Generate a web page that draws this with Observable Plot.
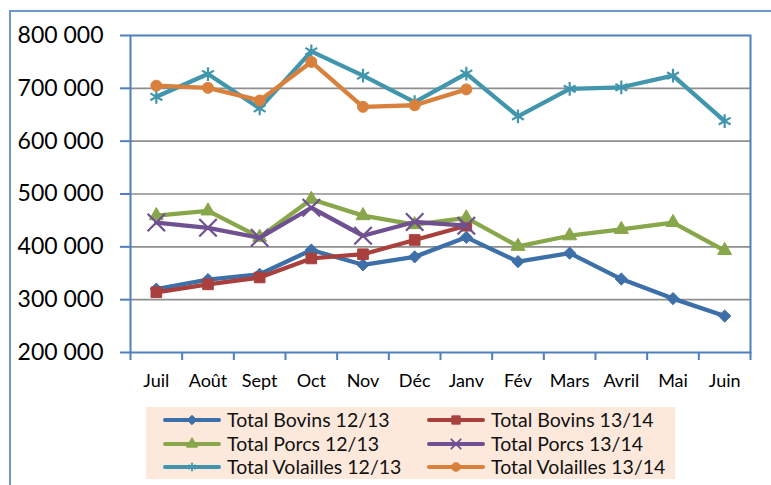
<!DOCTYPE html>
<html>
<head>
<meta charset="utf-8">
<script src="https://cdn.jsdelivr.net/npm/d3@7"></script>
<script src="https://cdn.jsdelivr.net/npm/@observablehq/plot@0.6"></script>
<style>
  html, body { margin: 0; padding: 0; background: #fff; overflow: hidden; }
  #wrap { position: relative; width: 771px; height: 485px; font-family: Lato, "Liberation Sans", sans-serif; }
  #frame { position: absolute; left: 9px; top: 10px; width: 900px; height: 600px; border: 2px solid #7096c8; box-sizing: border-box; }
  #chart { position: absolute; left: 0; top: 0; }
  #legend { position: absolute; left: 146px; top: 407px; width: 529px; height: 72px; background: #fce9dc; }
  .item { position: absolute; display: flex; align-items: center; height: 24px; font-size: 19.5px; line-height: 24px; color: #111; white-space: nowrap; }
  .item svg { margin-right: 6px; }
</style>
</head>
<body>
<div id="wrap">
  <div id="frame"></div>
  <div id="chart"></div>
  <div id="legend"></div>
</div>
<script>
// ---- Data ----
const months = ["Juil", "Août", "Sept", "Oct", "Nov", "Déc", "Janv", "Fév", "Mars", "Avril", "Mai", "Juin"];
const yTicks = [200000, 300000, 400000, 500000, 600000, 700000, 800000];

const bovins1213 = [320000, 338000, 348000, 394000, 366000, 381000, 418000, 372000, 388000, 339000, 302000, 269000];
const bovins1314 = [314000, 329000, 342000, 378000, 386000, 413000, 440000];
const porcs1213 = [459000, 468000, 418000, 490000, 459000, 442000, 455000, 401000, 421000, 433000, 446000, 393000];
const porcs1314 = [446000, 436000, 417000, 474000, 421000, 447000, 440000];
const volailles1213 = [684000, 727000, 662000, 770000, 724000, 674000, 728000, 647000, 699000, 702000, 724000, 638000];
const volailles1314 = [705000, 701000, 677000, 750000, 665000, 668000, 698000];

const seriesNames = ["Total Bovins 12/13", "Total Bovins 13/14", "Total Porcs 12/13", "Total Porcs 13/14", "Total Volailles 12/13", "Total Volailles 13/14"];
const seriesValues = [bovins1213, bovins1314, porcs1213, porcs1314, volailles1213, volailles1314];

// ---- Styles ----
const styles = [
  {color: "#3d6fa8", symbol: "diamond2", r: 5.5, filled: true},
  {color: "#a9403d", symbol: "square", r: 6, filled: true},
  {color: "#88a64a", symbol: "triangle", r: 5.2, filled: true},
  {color: "#6f5090", symbol: "times", r: 8, filled: false},
  {color: "#4196ad", symbol: "asterisk", r: 6.5, filled: false},
  {color: "#d9813c", symbol: "circle", r: 5.5, filled: true}
];
const axisColor = "#4f7fbd";

const fmt = d3.formatLocale({thousands: " ", grouping: [3], decimal: ","}).format(",");

const marks = [
  Plot.gridY(yTicks.slice(1, -1), {stroke: "#8e8e8e", strokeOpacity: 1, strokeWidth: 1.6}),
  Plot.frame({stroke: axisColor, strokeWidth: 2}),
  Plot.axisY(yTicks, {tickFormat: fmt, tickSize: 10, tickPadding: 17, fontSize: 23, stroke: axisColor, strokeWidth: 2, fill: "#000"}),
  Plot.axisX(d3.range(months.length + 1).map(i => i - 0.5), {tickFormat: () => "", tickSize: 8, stroke: axisColor, strokeWidth: 2}),
  Plot.axisX(months.map((_, i) => i), {tickFormat: i => months[i], tickSize: 0, tickPadding: 22, fontSize: 18, fill: "#000"})
];

seriesValues.forEach((vals, k) => {
  const s = styles[k];
  marks.push(Plot.line(vals, {x: (d, i) => i, y: d => d, stroke: s.color, strokeWidth: 4.3, strokeLinejoin: "round"}));
  marks.push(Plot.dot(vals, {
    x: (d, i) => i, y: d => d, symbol: s.symbol, r: s.r,
    fill: s.filled ? s.color : "none", stroke: s.color, strokeWidth: s.filled ? 1 : 2.2
  }));
});

const chart = Plot.plot({
  width: 771,
  height: 400,
  marginTop: 35,
  marginRight: 21,
  marginBottom: 48,
  marginLeft: 130,
  style: {fontFamily: "Lato, 'Liberation Sans', sans-serif", background: "transparent", overflow: "visible"},
  x: {type: "linear", domain: [-0.5, months.length - 0.5], axis: null},
  y: {domain: [yTicks[0], yTicks[yTicks.length - 1]], axis: null},
  marks
});
document.getElementById("chart").appendChild(chart);

// ---- Legend ----
const legend = document.getElementById("legend");
const symbolTypes = {diamond2: d3.symbolDiamond2, square: d3.symbolSquare, triangle: d3.symbolTriangle, times: d3.symbolTimes, asterisk: d3.symbolAsterisk, circle: d3.symbolCircle};
const colLeft = [17, 281];
const rowTop = [1, 25, 48];
seriesNames.forEach((name, k) => {
  const s = styles[k];
  const item = document.createElement("div");
  item.className = "item";
  item.style.left = colLeft[k % 2] + "px";
  item.style.top = rowTop[Math.floor(k / 2)] + "px";
  const svg = d3.create("svg").attr("width", 58).attr("height", 16);
  svg.append("line").attr("x1", 2).attr("x2", 56).attr("y1", 8).attr("y2", 8)
    .attr("stroke", s.color).attr("stroke-width", 4).attr("stroke-linecap", "round");
  const scale = s.filled ? 0.78 : 0.6;
  const size = Math.PI * (s.r * scale) ** 2;
  svg.append("path").attr("transform", "translate(29,8)")
    .attr("d", d3.symbol(symbolTypes[s.symbol], size)())
    .attr("fill", s.filled ? s.color : "none").attr("stroke", s.color).attr("stroke-width", s.filled ? 1 : 1.8);
  item.appendChild(svg.node());
  const span = document.createElement("span");
  span.textContent = name;
  item.appendChild(span);
  legend.appendChild(item);
});
</script>
</body>
</html>
